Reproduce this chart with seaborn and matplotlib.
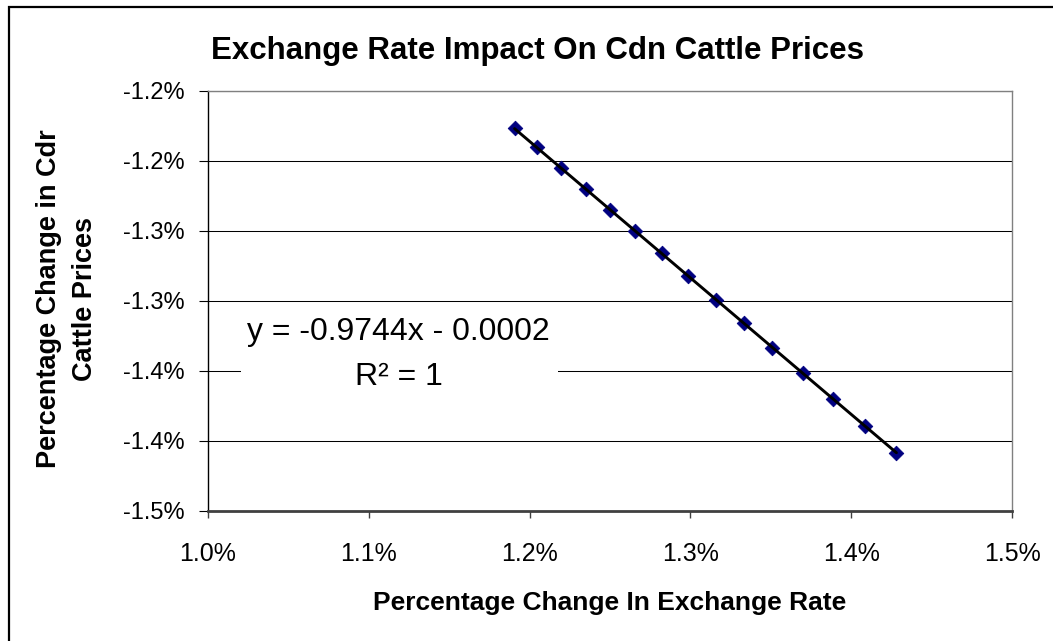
import pandas as pd
import matplotlib.pyplot as plt
import seaborn as sns
from matplotlib.patches import Rectangle

# Valores (em %)
variacao_cambio = [1.1907, 1.2048, 1.2194, 1.2348, 1.2503, 1.2654, 1.2822, 1.2983,
                   1.3161, 1.3331, 1.3507, 1.3698, 1.3886, 1.4085, 1.4280]
variacao_gado = [-1.1766, -1.1902, -1.2052, -1.2202, -1.2350, -1.2500, -1.2659, -1.2819,
                 -1.2993, -1.3159, -1.3334, -1.3512, -1.3700, -1.3891, -1.4084]

x_ticks = [1.0, 1.1, 1.2, 1.3, 1.4, 1.5]
x_tick_labels = ["1.0%", "1.1%", "1.2%", "1.3%", "1.4%", "1.5%"]
y_ticks = [-1.45, -1.40, -1.35, -1.30, -1.25, -1.20, -1.15]
y_tick_labels = ["-1.5%", "-1.4%", "-1.4%", "-1.3%", "-1.3%", "-1.2%", "-1.2%"]

titulo = "Exchange Rate Impact On Cdn Cattle Prices"
rotulo_x = "Percentage Change In Exchange Rate"
rotulo_y = "Percentage Change in Cdr\nCattle Prices"
equacao = "y = -0.9744x - 0.0002"
r2 = "R² = 1"

df = pd.DataFrame({"cambio": variacao_cambio, "gado": variacao_gado})

sns.set_style("white")
plt.rcParams["font.family"] = ["Liberation Sans", "DejaVu Sans"]
plt.rcParams["text.color"] = "black"
plt.rcParams["axes.labelcolor"] = "black"
plt.rcParams["xtick.color"] = "black"
plt.rcParams["ytick.color"] = "black"

W, H = 1053, 641
fig = plt.figure(figsize=(W / 100, H / 100), dpi=100)
fig.patch.set_facecolor("white")

# área do gráfico (px: x 207.7-1012.3, y 91-511)
ax = fig.add_axes([207.7 / W, 1 - 511 / H, 804.6 / W, 420 / H])

sns.regplot(data=df, x="cambio", y="gado", ax=ax, ci=None, marker="D",
            scatter_kws=dict(s=55, color="#000080", edgecolor="#000080",
                             linewidths=0.6, alpha=1, zorder=3),
            line_kws=dict(color="black", lw=2.1, zorder=4))

ax.set_xlim(1.0, 1.5)
ax.set_ylim(-1.45, -1.15)
ax.set_xticks(x_ticks)
ax.set_xticklabels(x_tick_labels)
ax.set_yticks(y_ticks)
ax.set_yticklabels(y_tick_labels)
ax.set_xlabel("")
ax.set_ylabel("")

ax.set_axisbelow(True)
ax.yaxis.grid(True, color="black", lw=0.75)
ax.xaxis.grid(False)

ax.spines["left"].set_color("black")
ax.spines["left"].set_linewidth(1.0)
ax.spines["bottom"].set_color("#404040")
ax.spines["bottom"].set_linewidth(2.0)
ax.spines["top"].set_color("#808080")
ax.spines["top"].set_linewidth(1.0)
ax.spines["right"].set_color("#808080")
ax.spines["right"].set_linewidth(1.0)

ax.tick_params(axis="x", direction="out", length=5, width=1, color="#404040",
               pad=17, labelsize=18, labelcolor="black", bottom=True)
ax.tick_params(axis="y", direction="out", length=6.5, width=0.8, color="black",
               pad=10, labelsize=17, labelcolor="black", left=True)

# títulos
fig.text(537.5 / W, 1 - 59 / H, titulo, ha="center", va="baseline",
         fontsize=22.5, fontweight="bold")
fig.text(609.9 / W, 1 - 610 / H, rotulo_x, ha="center", va="baseline",
         fontsize=19, fontweight="bold")
fig.text(67 / W, 1 - 299 / H, rotulo_y, ha="center", va="center", rotation=90,
         multialignment="center", fontsize=19.5, fontweight="bold", linespacing=1.45)

# caixa da equação da linha de tendência
fig.add_artist(Rectangle((241 / W, 1 - 397 / H), 317 / W, 91 / H,
                         transform=fig.transFigure, facecolor="white",
                         edgecolor="none", zorder=1))
fig.text(398.5 / W, 1 - 340 / H, equacao, ha="center", va="baseline", fontsize=23, zorder=3)
fig.text(398.5 / W, 1 - 385 / H, r2, ha="center", va="baseline", fontsize=23, zorder=3)

# moldura externa do gráfico
fig.add_artist(Rectangle((9 / W, -0.1), 1.2, 1.1 - 7 / H, transform=fig.transFigure,
                         facecolor="none", edgecolor="black", lw=1.6, zorder=5))

plt.savefig("out.png", dpi=100)
plt.close()
